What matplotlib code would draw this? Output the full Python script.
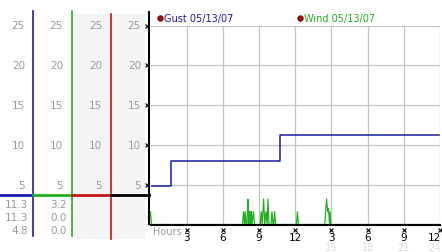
import matplotlib
matplotlib.use('Agg')
import matplotlib.pyplot as plt
from matplotlib.transforms import blended_transform_factory

# gust: step series (hours, mph)
gust_hours = [0, 1.67, 10.7, 23.9]
gust_speed = [4.8, 8.0, 11.3, 11.3]

# wind: mostly calm with a few short spikes
wind_hours = [0, 0.08, 7.63, 7.71, 7.79, 7.85, 7.93, 8.0, 8.07, 8.13, 8.17, 8.21, 8.25, 8.29, 8.33,
              8.37, 8.41, 8.54, 8.62, 9.1, 9.18, 9.26, 9.375, 9.47, 9.57, 9.66, 9.74, 9.82, 9.99,
              10.07, 10.15, 10.21, 10.29, 10.37, 12.1, 12.18, 12.26, 14.45, 14.52, 14.6, 14.68,
              14.76, 14.84, 14.88, 14.95, 24]
wind_speed = [1.6, 0, 0, 1.6, 0, 1.6, 0, 0, 3.2, 1.6, 0, 1.6, 0, 1.6, 0,
              1.6, 0, 1.6, 0, 0, 1.6, 0, 3.2, 0, 1.6, 0, 3.2, 0, 0,
              1.6, 0, 0, 1.6, 0, 0, 1.6, 0, 0, 1.6, 3.2, 1.6,
              2.0, 0, 1.6, 0, 0]

y_ticks = [5, 10, 15, 20, 25]
x_ticks = [3, 6, 9, 12, 15, 18, 21, 24]
x_labels = ['3', '6', '9', '12', '3', '6', '9', '12']
x_labels2 = ['15', '18', '21', '24']

series = ['Gust 05/13/07', 'Wind 05/13/07']
stats_gust = ['11.3', '11.3', '4.8']
stats_wind = ['3.2', '0.0', '0.0']

W, H = 442, 253
blue = '#1c1ca8'
green = '#22b022'
red = '#c01818'
grey_txt = '#9a9a9a'

fig = plt.figure(figsize=(W / 100, H / 100), dpi=100)

# background overlay in pixel units for the side panel and header
bg = fig.add_axes([0, 0, 1, 1])
bg.set_xlim(0, W)
bg.set_ylim(H, 0)
bg.axis('off')

# main chart
ax = fig.add_axes([150.5 / W, (H - 225.5) / H, (440 - 150.5) / W, (225.5 - 26.5) / H])
ax.set_xlim(0, 24)
ax.set_ylim(0, 25)
ax.set_facecolor('white')
ax.grid(True, color='#c4c4c4', lw=0.9)
ax.set_axisbelow(True)
ax.set_yticks(y_ticks)
ax.set_xticks(x_ticks)
ax.set_yticklabels([])
ax.set_xticklabels([])
ax.tick_params(length=0)
for s in ['top', 'right', 'left']:
    ax.spines[s].set_visible(False)
ax.spines['bottom'].set_color('black')
ax.spines['bottom'].set_linewidth(1.5)

ax.plot(gust_hours, gust_speed, drawstyle='steps-post', color=blue, lw=1.1)
ax.plot(wind_hours, wind_speed, color=green, lw=0.9, clip_on=False)

# tick glyphs
ax.plot([-0.25] * len(y_ticks), y_ticks, 'x', ms=2.5, mew=0.8, color='black', clip_on=False)
ax.plot(x_ticks, [-0.75] * len(x_ticks), 'x', ms=2.5, mew=0.8, color='black', clip_on=False)
for xt, lab in zip(x_ticks, x_labels):
    if xt == x_ticks[-1]:
        ax.text(xt + 0.05, -1.6, lab, ha='right', va='center', fontsize=7.5, color='black')
    else:
        ax.text(xt, -1.6, lab, ha='center', va='center', fontsize=7.5, color='black')
for xt, lab in zip(x_ticks[4:], x_labels2):
    ax.text(xt if xt < 24 else xt + 0.05, -2.85, lab, ha='center' if xt < 24 else 'right',
            va='center', fontsize=7, color='#dcdcdc')
ax.text(0.2, -0.85, 'Hours', ha='left', va='center', fontsize=7, color=grey_txt)

# side panel
bg.add_patch(plt.Rectangle((72, 15), 73, 225, color='#f4f4f4', lw=0))
bg.plot([33, 33], [12, 237], color=blue, lw=1.2)
bg.plot([72, 72], [12, 237], color=green, lw=1.2)
bg.plot([111, 111], [15, 240], color=red, lw=1.2)
bg.plot([149, 149], [13, 225], color='black', lw=1.5)
bg.plot([0, 33], [196, 196], color=blue, lw=2)
bg.plot([33, 72], [196, 196], color=green, lw=2)
bg.plot([72, 111], [196, 196], color=red, lw=2)
bg.plot([111, 149], [196, 196], color='black', lw=2)

tr = blended_transform_factory(bg.transData, ax.transData)
for xr in [25, 63, 102, 141]:
    for v in y_ticks:
        bg.text(xr, v, str(v), transform=tr, ha='right', va='center', fontsize=7.5, color=grey_txt)
for i, (g, w) in enumerate(zip(stats_gust, stats_wind)):
    yy = 205 + 13 * i
    bg.text(28, yy, g, ha='right', va='center', fontsize=7.5, color=grey_txt)
    bg.text(67, yy, w, ha='right', va='center', fontsize=7.5, color=grey_txt)

# header legend
for xd, lab, col in [(160, series[0], blue), (300, series[1], green)]:
    bg.plot(xd, 19, 'o', ms=4, color='#a01010', mec='#500000', mew=0.5)
    bg.text(xd + 4, 19, lab, ha='left', va='center', fontsize=7, color=col)

fig.savefig('out.png', dpi=100)
